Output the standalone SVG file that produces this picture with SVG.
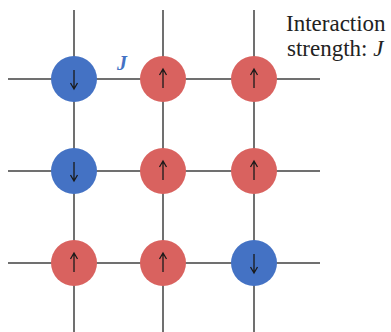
<svg xmlns="http://www.w3.org/2000/svg" width="391" height="332" viewBox="0 0 391 332">
<style>
.grid line{stroke:#404040;stroke-width:1.5}
.up{fill:#D9625F}
.down{fill:#4472C4}
.arr{fill:none;stroke:#1a1a1a;stroke-width:1.3}
.lbl{font-family:"Liberation Serif",serif;font-size:23px;fill:#222}
</style>
<defs>
<path id="au" class="arr" d="M0,9 V-10 M-3.5,-4 L0,-10 L3.5,-4"/>
<path id="ad" class="arr" d="M0,-9 V10 M-3.5,4 L0,10 L3.5,4"/>
</defs>
<rect width="391" height="332" fill="#fff"/>
<g id="connectors" class="grid">
<line x1="8" y1="79" x2="320" y2="79"/>
<line x1="8" y1="171" x2="320" y2="171"/>
<line x1="8" y1="263" x2="320" y2="263"/>
<line x1="74" y1="10" x2="74" y2="332"/>
<line x1="163" y1="10" x2="163" y2="332"/>
<line x1="254" y1="10" x2="254" y2="332"/>
</g>
<g id="n11"><circle class="down" cx="74" cy="79" r="23"/><use href="#ad" x="74" y="79"/></g>
<g id="n12"><circle class="up" cx="163" cy="79" r="23"/><use href="#au" x="163" y="79"/></g>
<g id="n13"><circle class="up" cx="254" cy="79" r="23"/><use href="#au" x="254" y="79"/></g>
<g id="n21"><circle class="down" cx="74" cy="171" r="23"/><use href="#ad" x="74" y="171"/></g>
<g id="n22"><circle class="up" cx="163" cy="171" r="23"/><use href="#au" x="163" y="171"/></g>
<g id="n23"><circle class="up" cx="254" cy="171" r="23"/><use href="#au" x="254" y="171"/></g>
<g id="n31"><circle class="up" cx="74" cy="263" r="23"/><use href="#au" x="74" y="263"/></g>
<g id="n32"><circle class="up" cx="163" cy="263" r="23"/><use href="#au" x="163" y="263"/></g>
<g id="n33"><circle class="down" cx="254" cy="263" r="23"/><use href="#ad" x="254" y="263"/></g>
<g id="labelJ"><text x="117" y="70" font-family="Liberation Serif, serif" font-size="20" font-weight="bold" font-style="italic" fill="#4472C4">J</text></g>
<g id="legend">
<text class="lbl" x="286" y="31">Interaction</text>
<text class="lbl" x="287" y="56">strength: <tspan font-style="italic">J</tspan></text>
</g>
</svg>
